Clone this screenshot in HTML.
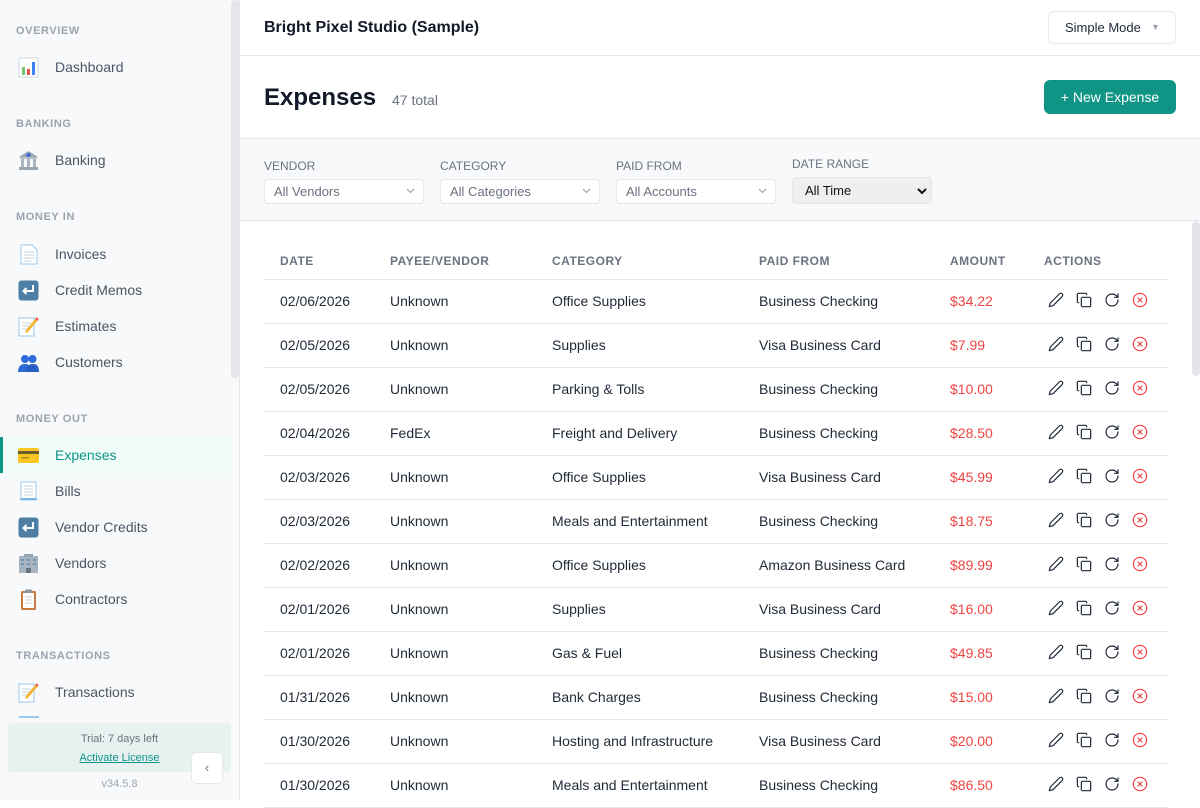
<!DOCTYPE html>
<html><head><meta charset="utf-8">
<style>
*{margin:0;padding:0;box-sizing:border-box}
html,body{width:1200px;height:800px;overflow:hidden;background:#fff;font-family:"Liberation Sans",Arial,sans-serif}
.abs{position:absolute}
#side{position:absolute;left:0;top:0;width:240px;height:800px;background:#f8f9fb;border-right:1px solid #e5e7eb}
.sec{position:absolute;left:16px;font-size:11px;font-weight:bold;color:#9ca3af;letter-spacing:0.6px;line-height:12px}
.item{position:absolute;left:0;width:231px;height:36px;font-size:14px;color:#4b5563;line-height:36px}
.item .t{position:absolute;left:55px;top:0}
.item svg{position:absolute;left:18px;top:8px;width:21px;height:21px}
.item.act{background:#effcf8;color:#0d9488}
.item.act:before{content:"";position:absolute;left:0;top:0;width:3px;height:36px;background:#0d9488}
.lbl{position:absolute;top:159px;font-size:12px;color:#6b7280;line-height:14px}
.sel{position:absolute;top:179px;width:160px;height:25px;background:#fff;border:1px solid #e5e7eb;border-radius:4px;font-size:13px;color:#6b7280;line-height:23px;padding-left:9px}
.sel svg{position:absolute;right:8px;top:8px}
.th{position:absolute;top:255px;font-size:12px;font-weight:bold;color:#6b7280;letter-spacing:0.5px;line-height:13px}
.row{position:absolute;left:264px;width:904px;height:44px;border-bottom:1px solid #e5e7eb;font-size:14px;color:#1f2937}
.row span{position:absolute;top:13px;line-height:16px;white-space:nowrap}
.row .amt{color:#ef4444}
.row svg{position:absolute;top:12px;width:16px;height:16px;fill:none;stroke-width:1.8;stroke-linecap:round;stroke-linejoin:round}
</style></head><body>

<div id="side">
  <div class="abs" style="left:231px;top:0;width:8px;height:378px;background:#e3e5e9;border-radius:4px"></div>

  <div class="sec" style="top:25px">OVERVIEW</div>
  <div class="item" style="top:49px"><svg viewBox="0 0 21 21"><rect x="1" y="1" width="19" height="19" fill="#fff" stroke="#cfd8e3"/><rect x="4" y="10" width="3" height="8" fill="#7cc26a"/><rect x="9" y="12" width="3" height="6" fill="#e8504a"/><rect x="14" y="5" width="3" height="13" fill="#3b82f6"/></svg><span class="t">Dashboard</span></div>

  <div class="sec" style="top:118px">BANKING</div>
  <div class="item" style="top:142px"><svg viewBox="0 0 21 21"><path d="M1 7 L10.5 1 L20 7Z" fill="#9aa7b3"/><rect x="2" y="7" width="17" height="2" fill="#b7c1ca"/><rect x="3" y="9" width="3" height="8" fill="#aab5bf"/><rect x="9" y="9" width="3" height="8" fill="#aab5bf"/><rect x="15" y="9" width="3" height="8" fill="#aab5bf"/><rect x="1" y="17" width="19" height="3" fill="#9aa7b3"/><circle cx="10.5" cy="5" r="2" fill="#3b6fd6"/></svg><span class="t">Banking</span></div>

  <div class="sec" style="top:211px">MONEY IN</div>
  <div class="item" style="top:236px"><svg viewBox="0 0 21 21"><path d="M3 1h11l5 5v14H3z" fill="#fff" stroke="#9cc9ee"/><path d="M6 8h10M6 11h10M6 14h10M6 17h7" stroke="#c8d3dc"/></svg><span class="t">Invoices</span></div>
  <div class="item" style="top:272px"><svg viewBox="0 0 21 21"><rect x="0.5" y="0.5" width="20" height="20" rx="3" fill="#4d7ea3"/><path d="M15 5v6H6M8.5 8 5.5 11l3 3" stroke="#fff" stroke-width="2" fill="none"/></svg><span class="t">Credit Memos</span></div>
  <div class="item" style="top:308px"><svg viewBox="0 0 21 21"><rect x="1" y="2" width="15" height="18" fill="#fff" stroke="#9cc9ee"/><path d="M4 7h9M4 10h9M4 13h6" stroke="#c8d3dc"/><path d="M18 2 8 14l-1 3 3-1L20 4z" fill="#f5b431"/><path d="M18 2l2 2" stroke="#e8504a" stroke-width="2"/></svg><span class="t">Estimates</span></div>
  <div class="item" style="top:344px"><svg viewBox="0 0 21 21"><circle cx="7" cy="7" r="4" fill="#2f6bd8"/><circle cx="14.5" cy="7" r="4" fill="#2f6bd8"/><path d="M0 20c0-6 3-8 7-8s7 2 7 8z" fill="#2f6bd8"/><path d="M8 20c0-6 3-8 7-8s6 2 6 8z" fill="#2a5fc4"/></svg><span class="t">Customers</span></div>

  <div class="sec" style="top:413px">MONEY OUT</div>
  <div class="item act" style="top:437px"><svg viewBox="0 0 21 21"><rect x="0" y="3" width="21" height="15" rx="2" fill="#f9c623"/><rect x="0" y="6" width="21" height="3" fill="#6b5a2a"/><rect x="3" y="12" width="8" height="1.5" fill="#b68a12"/></svg><span class="t">Expenses</span></div>
  <div class="item" style="top:473px"><svg viewBox="0 0 21 21"><path d="M3 1h15v18H3z" fill="#fff" stroke="#9cc9ee"/><path d="M1 18c2 0 2-1 2-1h15s1 2 2 2H3z" fill="#7cb5e6"/><path d="M6 5h9M6 8h9M6 11h9M6 14h9" stroke="#c8d3dc"/></svg><span class="t">Bills</span></div>
  <div class="item" style="top:509px"><svg viewBox="0 0 21 21"><rect x="0.5" y="0.5" width="20" height="20" rx="3" fill="#4d7ea3"/><path d="M15 5v6H6M8.5 8 5.5 11l3 3" stroke="#fff" stroke-width="2" fill="none"/></svg><span class="t">Vendor Credits</span></div>
  <div class="item" style="top:545px"><svg viewBox="0 0 21 21"><rect x="1" y="3" width="19" height="17" fill="#a7b4bf"/><rect x="6" y="1" width="9" height="3" fill="#94a3b0"/><g fill="#6f95b8"><rect x="3" y="6" width="3" height="2"/><rect x="9" y="6" width="3" height="2"/><rect x="15" y="6" width="3" height="2"/><rect x="3" y="10" width="3" height="2"/><rect x="9" y="10" width="3" height="2"/><rect x="15" y="10" width="3" height="2"/></g><rect x="8" y="15" width="5" height="5" fill="#6b7280"/></svg><span class="t">Vendors</span></div>
  <div class="item" style="top:581px"><svg viewBox="0 0 21 21"><rect x="3" y="2" width="15" height="19" rx="1.5" fill="#c47b44"/><rect x="5" y="4" width="11" height="15" fill="#fff"/><rect x="7" y="0.5" width="7" height="3.5" rx="1" fill="#8b96a1"/><path d="M7 8h7M7 11h7M7 14h7" stroke="#c8d3dc"/></svg><span class="t">Contractors</span></div>

  <div class="sec" style="top:650px">TRANSACTIONS</div>
  <div class="item" style="top:674px"><svg viewBox="0 0 21 21"><rect x="1" y="2" width="15" height="18" fill="#fff" stroke="#9cc9ee"/><path d="M4 7h9M4 10h9M4 13h6" stroke="#c8d3dc"/><path d="M18 2 8 14l-1 3 3-1L20 4z" fill="#f5b431"/><path d="M18 2l2 2" stroke="#e8504a" stroke-width="2"/></svg><span class="t">Transactions</span></div>
  <div class="abs" style="left:19px;top:716px;width:20px;height:2px;background:#9cc9ee"></div>

  <div class="abs" style="left:0;top:718px;width:239px;height:82px;background:#f8f9fb"></div>
  <div class="abs" style="left:8px;top:723px;width:223px;height:49px;background:#e6f1f0;border-radius:4px"></div>
  <div class="abs" style="left:8px;top:733px;width:223px;text-align:center;font-size:11px;color:#6b7280;line-height:13px">Trial: 7 days left</div>
  <div class="abs" style="left:8px;top:752px;width:223px;text-align:center;font-size:11px;color:#0d9488;line-height:13px;text-decoration:underline">Activate License</div>
  <div class="abs" style="left:8px;top:778px;width:223px;text-align:center;font-size:11px;color:#9ca3af;line-height:13px">v34.5.8</div>
  <div class="abs" style="left:191px;top:752px;width:32px;height:32px;background:#fff;border:1px solid #e5e7eb;border-radius:5px;text-align:center;font-size:13px;line-height:29px;color:#6b7280">&#8249;</div>
</div>

<!-- top bar -->
<div class="abs" style="left:240px;top:0;width:960px;height:56px;border-bottom:1px solid #e5e7eb;background:#fff"></div>
<div class="abs" style="left:264px;top:18px;font-size:16px;font-weight:bold;color:#111827;line-height:19px">Bright Pixel Studio (Sample)</div>
<div class="abs" style="left:1048px;top:11px;width:128px;height:33px;border:1px solid #e5e7eb;border-radius:6px;font-size:13px;color:#1f2937;line-height:31px;padding-left:16px">Simple Mode<span style="position:absolute;left:102px;top:0;font-size:9px;color:#9ca3af">&#9660;</span></div>

<!-- page header -->
<div class="abs" style="left:264px;top:84px;font-size:24px;font-weight:bold;color:#111827;line-height:28px">Expenses</div>
<div class="abs" style="left:392px;top:92px;font-size:14px;color:#6b7280;line-height:16px">47 total</div>
<div class="abs" style="left:1044px;top:80px;width:132px;height:34px;background:#0f9485;border-radius:6px;color:#fff;font-size:14px;line-height:34px;text-align:center">+ New Expense</div>

<!-- filter bar -->
<div class="abs" style="left:240px;top:138px;width:960px;height:83px;background:#f8f9fb;border-top:1px solid #e5e7eb;border-bottom:1px solid #e5e7eb"></div>
<div class="lbl" style="left:264px">VENDOR</div>
<div class="lbl" style="left:440px">CATEGORY</div>
<div class="lbl" style="left:616px">PAID FROM</div>
<div class="lbl" style="left:792px;top:157px">DATE RANGE</div>
<div class="sel" style="left:264px">All Vendors<svg width="9" height="6" viewBox="0 0 9 6"><path d="M1 1l3.5 3.5L8 1" stroke="#9ca3af" stroke-width="1.2" fill="none"/></svg></div>
<div class="sel" style="left:440px">All Categories<svg width="9" height="6" viewBox="0 0 9 6"><path d="M1 1l3.5 3.5L8 1" stroke="#9ca3af" stroke-width="1.2" fill="none"/></svg></div>
<div class="sel" style="left:616px">All Accounts<svg width="9" height="6" viewBox="0 0 9 6"><path d="M1 1l3.5 3.5L8 1" stroke="#9ca3af" stroke-width="1.2" fill="none"/></svg></div>
<div class="sel" style="left:792px;top:177px;width:140px;height:27px;background:#efefef;color:#111;line-height:25px;padding-left:12px">All Time<svg width="10" height="7" viewBox="0 0 10 7" style="right:4px;top:10px"><path d="M1 1l4 4 4-4" stroke="#111" stroke-width="2" fill="none"/></svg></div>

<!-- content scrollbar -->
<div class="abs" style="left:1192px;top:221px;width:8px;height:155px;background:#e3e5e9;border-radius:4px"></div>

<!-- table header -->
<div class="abs" style="left:264px;top:243px;width:904px;height:37px;border-bottom:1px solid #e5e7eb"></div>
<div class="th" style="left:280px">DATE</div>
<div class="th" style="left:390px">PAYEE/VENDOR</div>
<div class="th" style="left:552px">CATEGORY</div>
<div class="th" style="left:759px">PAID FROM</div>
<div class="th" style="left:950px">AMOUNT</div>
<div class="th" style="left:1044px">ACTIONS</div>

<div id="rows"></div>
<script>
var d=[["02/06/2026","Unknown","Office Supplies","Business Checking","$34.22"],
["02/05/2026","Unknown","Supplies","Visa Business Card","$7.99"],
["02/05/2026","Unknown","Parking &amp; Tolls","Business Checking","$10.00"],
["02/04/2026","FedEx","Freight and Delivery","Business Checking","$28.50"],
["02/03/2026","Unknown","Office Supplies","Visa Business Card","$45.99"],
["02/03/2026","Unknown","Meals and Entertainment","Business Checking","$18.75"],
["02/02/2026","Unknown","Office Supplies","Amazon Business Card","$89.99"],
["02/01/2026","Unknown","Supplies","Visa Business Card","$16.00"],
["02/01/2026","Unknown","Gas &amp; Fuel","Business Checking","$49.85"],
["01/31/2026","Unknown","Bank Charges","Business Checking","$15.00"],
["01/30/2026","Unknown","Hosting and Infrastructure","Visa Business Card","$20.00"],
["01/30/2026","Unknown","Meals and Entertainment","Business Checking","$86.50"]];
var ic='<svg viewBox="0 0 24 24" style="left:784px" stroke="#1f2937"><path d="M17 3a2.85 2.83 0 1 1 4 4L7.5 20.5 2 22l1.5-5.5Z"/></svg>'+
'<svg viewBox="0 0 24 24" style="left:812px" stroke="#1f2937"><rect x="8" y="8" width="14" height="14" rx="2"/><path d="M4 16c-1.1 0-2-.9-2-2V4c0-1.1.9-2 2-2h10c1.1 0 2 .9 2 2"/></svg>'+
'<svg viewBox="0 0 24 24" style="left:840px" stroke="#1f2937"><path d="M21 12a9 9 0 1 1-9-9c2.52 0 4.93 1 6.74 2.74L21 8"/><path d="M21 3v5h-5"/></svg>'+
'<svg viewBox="0 0 24 24" style="left:868px" stroke="#ef4444"><circle cx="12" cy="12" r="10"/><path d="m15 9-6 6M9 9l6 6"/></svg>';
var h='';
for(var i=0;i<d.length;i++){var r=d[i];
h+='<div class="row" style="top:'+(280+44*i)+'px"><span style="left:16px">'+r[0]+'</span><span style="left:126px">'+r[1]+'</span><span style="left:288px">'+r[2]+'</span><span style="left:495px">'+r[3]+'</span><span class="amt" style="left:686px">'+r[4]+'</span>'+ic+'</div>';}
document.getElementById('rows').innerHTML=h;
</script>
</body></html>
